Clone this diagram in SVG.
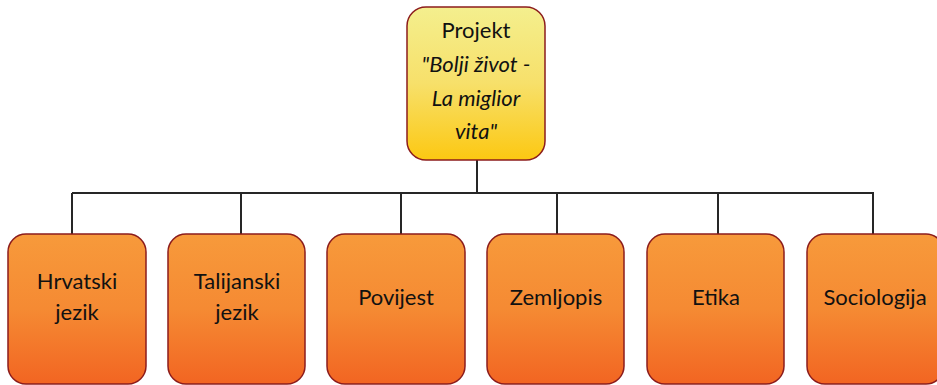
<svg xmlns="http://www.w3.org/2000/svg" width="937" height="385" viewBox="0 0 937 385">
  <defs>
    <linearGradient id="gradRoot" x1="0" y1="0" x2="0" y2="1">
      <stop offset="0" stop-color="#f4ef8e"/>
      <stop offset="0.5" stop-color="#f7e06a"/>
      <stop offset="1" stop-color="#fcc812"/>
    </linearGradient>
    <linearGradient id="gradChild" x1="0" y1="0" x2="0" y2="1">
      <stop offset="0" stop-color="#f79a3b"/>
      <stop offset="0.5" stop-color="#f58a33"/>
      <stop offset="1" stop-color="#f26522"/>
    </linearGradient>
  </defs>
  <style>
    .root { fill: url(#gradRoot); stroke: #8c1c1c; stroke-width: 1.5; }
    .child { fill: url(#gradChild); stroke: #8c1c1c; stroke-width: 1.5; }
    .link { fill: none; stroke: #262626; stroke-width: 2; }
    .label { font-family: Lato, "Open Sans", "Liberation Sans", sans-serif; font-size: 22px; fill: #111; text-anchor: middle; }
    .it { font-style: italic; }
  </style>

  <!-- connectors -->
  <g id="connectors">
    <path class="link" d="M477 160 V193"/>
    <path class="link" d="M72 193 H874"/>
    <path class="link" d="M72 193 V234"/>
    <path class="link" d="M241 193 V234"/>
    <path class="link" d="M401 193 V234"/>
    <path class="link" d="M557 193 V234"/>
    <path class="link" d="M718 193 V234"/>
    <path class="link" d="M873 193 V234"/>
  </g>

  <!-- root -->
  <g id="node-projekt">
    <rect class="root" x="407" y="7" width="138" height="153" rx="19" ry="19"/>
    <text class="label" x="476" y="38">Projekt</text>
    <text class="label it" x="476" y="72">"Bolji život -</text>
    <text class="label it" x="476" y="106">La miglior</text>
    <text class="label it" x="476" y="139">vita"</text>
  </g>

  <!-- subjects -->
  <g id="node-hrvatski">
    <rect class="child" x="8" y="234" width="138" height="150" rx="18" ry="18"/>
    <text class="label" x="77" y="289">Hrvatski</text>
    <text class="label" x="77" y="320">jezik</text>
  </g>
  <g id="node-talijanski">
    <rect class="child" x="168" y="234" width="137" height="150" rx="18" ry="18"/>
    <text class="label" x="237" y="289">Talijanski</text>
    <text class="label" x="237" y="320">jezik</text>
  </g>
  <g id="node-povijest">
    <rect class="child" x="327" y="234" width="138" height="150" rx="18" ry="18"/>
    <text class="label" x="396" y="305">Povijest</text>
  </g>
  <g id="node-zemljopis">
    <rect class="child" x="487" y="234" width="137" height="150" rx="18" ry="18"/>
    <text class="label" x="556" y="305">Zemljopis</text>
  </g>
  <g id="node-etika">
    <rect class="child" x="647" y="234" width="137" height="150" rx="18" ry="18"/>
    <text class="label" x="716" y="305">Etika</text>
  </g>
  <g id="node-sociologija">
    <rect class="child" x="807" y="234" width="137" height="150" rx="18" ry="18"/>
    <text class="label" x="875" y="305">Sociologija</text>
  </g>
</svg>
